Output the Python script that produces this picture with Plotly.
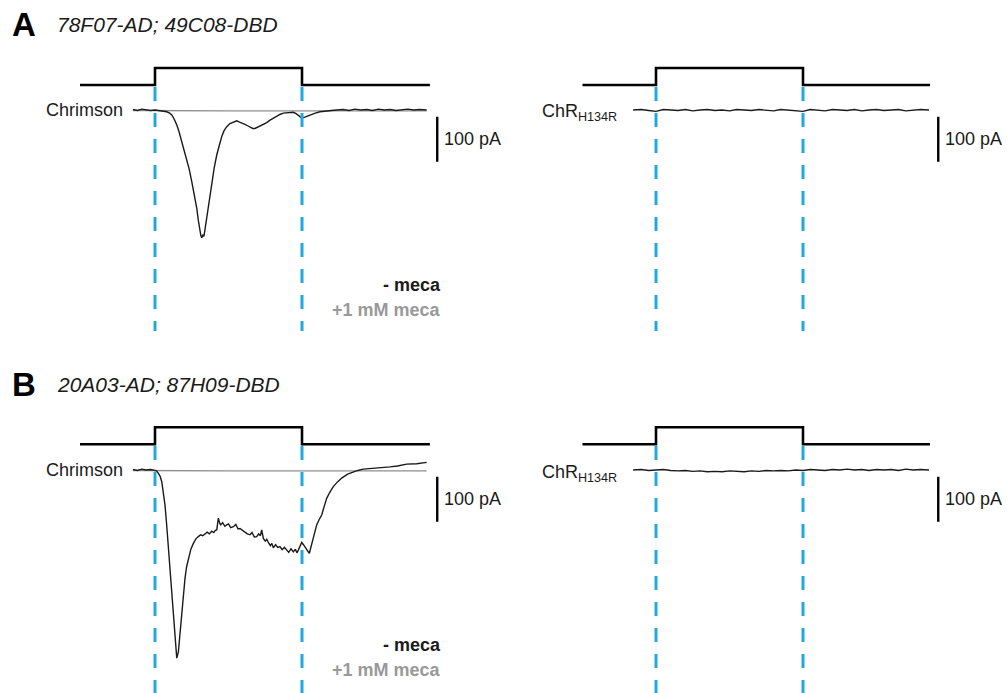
import plotly.graph_objects as go

# ---------------- data ----------------
LED_ON, LED_OFF = 0.0, 1.0          # s
LED_T_LEFT = [-0.51, 0.0, 0.0, 1.0, 1.0, 1.87]
LED_T_RIGHT = [-0.50, 0.0, 0.0, 1.0, 1.0, 1.864]
LED_STATE = [0, 0, 1, 1, 0, 0]

# A, Chrimson, - meca (time s, current pA)
A_T = [-0.15, -0.12, -0.09, -0.06, -0.03, 0.00, 0.03, 0.06, 0.08, 0.10,
       0.114, 0.13, 0.148, 0.165, 0.182, 0.20, 0.216, 0.233, 0.25, 0.267,
       0.284, 0.295, 0.306, 0.312, 0.318, 0.326, 0.333, 0.342, 0.352, 0.37,
       0.386, 0.403, 0.42, 0.437, 0.454, 0.47, 0.488, 0.51, 0.535, 0.556,
       0.575, 0.595, 0.612, 0.63, 0.65, 0.665, 0.68, 0.70, 0.72, 0.737,
       0.76, 0.78, 0.805, 0.83, 0.85, 0.873, 0.90, 0.92, 0.941, 0.96,
       0.98, 0.998, 1.02, 1.054, 1.09, 1.122, 1.16, 1.20, 1.236, 1.28,
       1.32, 1.36, 1.40, 1.44, 1.48, 1.52, 1.56, 1.60, 1.64, 1.68,
       1.72, 1.76, 1.80, 1.848]
A_I = [1, -1, 2, 0, -1, 0, -1, -2, -4, -7,
       -11, -20, -33, -50, -70, -88, -107, -132, -159, -188,
       -218, -246, -270, -279, -284, -278, -281, -262, -240, -200,
       -159, -128, -100, -78, -59, -46, -37, -30, -26, -24,
       -27, -29, -32, -35, -38, -41, -41, -38, -35, -33,
       -28, -23, -18, -13, -10, -7, -6, -5, -5, -8,
       -13, -18, -16, -11, -7, -4, -2, -1, 0, 1,
       -1, 2, 0, 1, -1, 2, 0, 1, -1, 1,
       2, 0, 1, 0]
# A, Chrimson, +1 mM meca
A_MECA_T = [-0.15, 0.2, 0.5, 0.8, 1.1, 1.4, 1.848]
A_MECA_I = [-1, -2, -2, -2, -2, -2, -2]

# B, Chrimson, - meca
B_T = [-0.15, -0.12, -0.09, -0.06, -0.03, -0.012, 0.01, 0.022, 0.035, 0.046,
       0.057, 0.068, 0.079, 0.09, 0.102, 0.114, 0.125, 0.136, 0.148, 0.159,
       0.17, 0.182, 0.193, 0.204, 0.215, 0.227, 0.244, 0.261, 0.278, 0.295,
       0.31, 0.325, 0.34, 0.355, 0.37, 0.386, 0.40, 0.41, 0.42, 0.431,
       0.44, 0.447, 0.46, 0.475, 0.488, 0.50, 0.515, 0.533, 0.55, 0.565,
       0.578, 0.595, 0.612, 0.628, 0.646, 0.66, 0.676, 0.692, 0.705, 0.717,
       0.726, 0.737, 0.75, 0.76, 0.771, 0.785, 0.795, 0.805, 0.82, 0.835,
       0.85, 0.865, 0.88, 0.896, 0.91, 0.925, 0.941, 0.955, 0.965, 0.975,
       0.988, 0.998, 1.01, 1.02, 1.035, 1.05, 1.062, 1.073, 1.087, 1.10,
       1.117, 1.134, 1.15, 1.168, 1.19, 1.213, 1.24, 1.27, 1.31, 1.349,
       1.38, 1.417, 1.46, 1.508, 1.55, 1.599, 1.65, 1.712, 1.78, 1.848]
B_I = [1, -1, 2, 0, 1, 0, -2, -7, -14, -26,
       -48, -78, -120, -167, -222, -278, -330, -382, -418, -404,
       -362, -322, -280, -241, -215, -196, -176, -163, -153, -148,
       -144, -146, -141, -138, -142, -136, -139, -134, -133, -107,
       -118, -122, -117, -125, -122, -120, -128, -126, -121, -131,
       -130, -134, -137, -142, -144, -139, -149, -148, -142, -146,
       -133, -152, -158, -154, -161, -168, -163, -173, -166, -172,
       -170, -177, -172, -178, -183, -175, -182, -176, -184, -178,
       -168, -161, -166, -170, -178, -185, -170, -152, -134, -122,
       -110, -100, -82, -63, -49, -37, -27, -18, -9, -4,
       -1, 2, 3, 5, 5, 7, 9, 13, 14, 17]
# B, Chrimson, +1 mM meca
B_MECA_T = [-0.15, 0.2, 0.5, 0.8, 1.1, 1.4, 1.848]
B_MECA_I = [-1, -2, -2, -2, -2, -2, -2]

# ChR H134R traces (right column)
R_T = [-0.156, -0.10, -0.05, 0.0, 0.05, 0.10, 0.15, 0.20, 0.25, 0.30,
       0.35, 0.40, 0.45, 0.50, 0.55, 0.60, 0.65, 0.70, 0.75, 0.80,
       0.85, 0.90, 0.95, 1.00, 1.05, 1.10, 1.15, 1.20, 1.25, 1.30,
       1.35, 1.40, 1.45, 1.50, 1.55, 1.60, 1.65, 1.70, 1.75, 1.80, 1.857]
AR_I = [0, 1, -1, -3, 1, 0, -1, 1, -2, 0,
        1, -1, 0, -2, 1, 0, -1, 1, 0, -2,
        1, 0, -1, -3, 1, 0, -2, 1, 0, -1,
        1, -2, 0, 1, -1, 0, 1, -2, 0, 1, 0]
BR_I = [0, 1, -1, 0, 1, -1, -2, -1, -3, -2,
        -4, -3, -4, -2, -3, -4, -2, -3, -1, -2,
        -1, -2, 0, -1, 1, 0, -1, 1, 0, 2,
        0, 1, -1, 1, 0, 1, -1, 2, 0, 1, 0]

SCALE_T = [1.92, 1.92]
SCALE_I = [-15, -115]   # 100 pA

PANEL_LETTERS = ["A", "B"]
PANEL_TITLES = ["78F07-AD; 49C08-DBD", "20A03-AD; 87H09-DBD"]
LEFT_LABEL = "Chrimson"
RIGHT_LABEL = "ChR<sub>H134R</sub>"
LED_LABEL = "1 s LED"
SCALE_LABEL = "100 pA"
COND_LABELS = ["- meca", "+1 mM meca"]

# ---------------- layout helpers ----------------
W, H = 1007, 693
PX_PER_S = 147.0
PX_PER_PA = 0.45
PX_PER_LED = 17.0
XR = [-0.6, 2.0]

BLACK = "#1a1a1a"
GRAY = "#8e8e8e"
BLUE = "#22a8e0"
FONT = "Liberation Sans, Arial, sans-serif"


def xdomain(px_on):
    return [(px_on + XR[0] * PX_PER_S) / W, (px_on + XR[1] * PX_PER_S) / W]


def ydom(top_px, bot_px):
    return [1 - bot_px / H, 1 - top_px / H]


def cur_range(base_px, top_px, bot_px):
    return [-(bot_px - base_px) / PX_PER_PA, (base_px - top_px) / PX_PER_PA]


def led_range(low_px, top_px, bot_px):
    return [-(bot_px - low_px) / PX_PER_LED, (low_px - top_px) / PX_PER_LED]


rows = [dict(base=110, top=87, bot=331, led_low=85.0),
        dict(base=470, top=446, bot=693, led_low=444.3)]
cols = [155, 656]

fig = go.Figure()
layout = dict(width=W, height=H, margin=dict(l=0, r=0, t=0, b=0),
              paper_bgcolor="white", plot_bgcolor="rgba(0,0,0,0)",
              showlegend=False)
annotations = []
shapes = []

traces_per_panel = {
    (0, 0): [(A_MECA_T, A_MECA_I, GRAY), (A_T, A_I, BLACK)],
    (0, 1): [(R_T, AR_I, BLACK)],
    (1, 0): [(B_MECA_T, B_MECA_I, GRAY), (B_T, B_I, BLACK)],
    (1, 1): [(R_T, BR_I, BLACK)],
}

for r, row in enumerate(rows):
    for c, xon in enumerate(cols):
        xi = r * 2 + c + 1
        yc = 2 * (xi - 1) + 1
        yl = yc + 1
        xn = "x" if xi == 1 else f"x{xi}"
        ycn = "y" if yc == 1 else f"y{yc}"
        yln = f"y{yl}"
        xkey = "xaxis" if xi == 1 else f"xaxis{xi}"
        yckey = "yaxis" if yc == 1 else f"yaxis{yc}"
        ylkey = f"yaxis{yl}"
        layout[xkey] = dict(domain=xdomain(xon), range=XR, anchor=ycn,
                            visible=False, fixedrange=True)
        layout[yckey] = dict(domain=ydom(row["top"], row["bot"]),
                             range=cur_range(row["base"], row["top"], row["bot"]),
                             anchor=xn, visible=False, fixedrange=True)
        led_top = row["led_low"] - 25
        led_bot = row["led_low"] + 5
        layout[ylkey] = dict(domain=ydom(led_top, led_bot),
                             range=led_range(row["led_low"], led_top, led_bot),
                             anchor=xn, visible=False, fixedrange=True)

        # LED trace
        fig.add_trace(go.Scatter(x=LED_T_LEFT if c == 0 else LED_T_RIGHT, y=LED_STATE,
                                 xaxis=xn, yaxis=yln, mode="lines",
                                 line=dict(color="black", width=2.6, shape="linear"),
                                 hoverinfo="skip", cliponaxis=False))
        # current traces
        for tt, ii, col in traces_per_panel[(r, c)]:
            fig.add_trace(go.Scatter(x=tt, y=ii, xaxis=xn, yaxis=ycn, mode="lines",
                                     line=dict(color=col, width=1.4),
                                     hoverinfo="skip", cliponaxis=False))
        # scale bar
        fig.add_trace(go.Scatter(x=SCALE_T, y=SCALE_I, xaxis=xn, yaxis=ycn, mode="lines",
                                 line=dict(color="black", width=2.4),
                                 hoverinfo="skip", cliponaxis=False))
        # dashed LED on/off lines
        for tx in (LED_ON, LED_OFF):
            shapes.append(dict(type="line", xref=xn, yref=f"{ycn} domain",
                               x0=tx, x1=tx, y0=1, y1=0,
                               line=dict(color=BLUE, width=3, dash="14px,12px")))
        # texts
        annotations.append(dict(x=0.5, y=1.87, xref=xn, yref=yln, text=LED_LABEL,
                                showarrow=False, xanchor="center", yanchor="middle",
                                font=dict(family=FONT, size=18, color=BLACK)))
        annotations.append(dict(x=SCALE_T[0], y=(SCALE_I[0] + SCALE_I[1]) / 2,
                                xref=xn, yref=ycn, text=SCALE_LABEL, showarrow=False,
                                xanchor="left", yanchor="middle", xshift=5,
                                font=dict(family=FONT, size=18, color=BLACK)))
        annotations.append(dict(x=-0.205 if c == 0 else -0.255, y=0, xref=xn, yref=ycn,
                                text=LEFT_LABEL if c == 0 else RIGHT_LABEL,
                                showarrow=False, xanchor="right", yanchor="middle",
                                yshift=0 if c == 0 else -3,
                                font=dict(family=FONT, size=18, color=BLACK)))
        if c == 0:
            annotations.append(dict(x=1.96, y=-389, xref=xn, yref=ycn,
                                    text="<b>" + COND_LABELS[0] + "</b>", showarrow=False,
                                    xanchor="right", yanchor="middle",
                                    font=dict(family=FONT, size=18, color=BLACK)))
            annotations.append(dict(x=1.96, y=-445, xref=xn, yref=ycn,
                                    text="<b>" + COND_LABELS[1] + "</b>", showarrow=False,
                                    xanchor="right", yanchor="middle",
                                    font=dict(family=FONT, size=18, color="#999999")))

# panel letters and titles
letter_y = [25, 384]
for r in range(2):
    annotations.append(dict(x=10 / W, y=1 - letter_y[r] / H, xref="paper", yref="paper",
                            text="<b>" + PANEL_LETTERS[r] + "</b>", showarrow=False,
                            xanchor="left", yanchor="middle",
                            font=dict(family=FONT, size=33, color="black")))
    annotations.append(dict(x=55 / W, y=1 - letter_y[r] / H, xref="paper", yref="paper",
                            text="<i>" + PANEL_TITLES[r] + "</i>", showarrow=False,
                            xanchor="left", yanchor="middle",
                            font=dict(family=FONT, size=21, color=BLACK)))

layout["annotations"] = annotations
layout["shapes"] = shapes
fig.update_layout(**layout)
fig.write_html("out.html", config={"displayModeBar": False, "staticPlot": True},
               post_script="document.body.style.margin='0';document.body.style.overflow='hidden';")
